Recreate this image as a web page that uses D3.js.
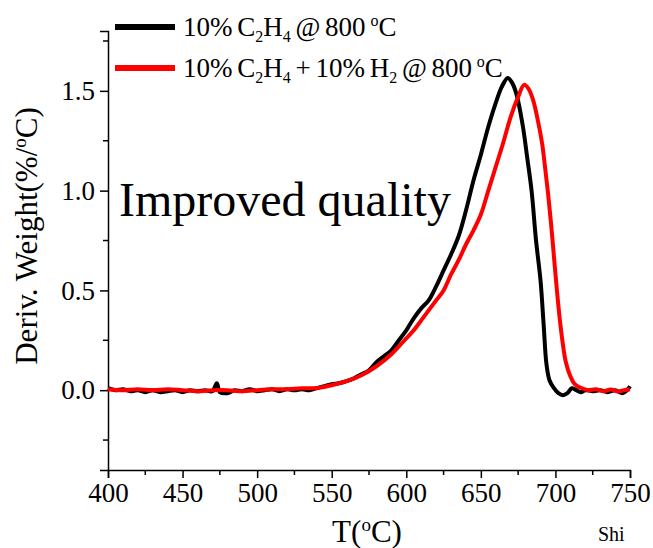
<!DOCTYPE html>
<html>
<head>
<meta charset="utf-8">
<script src="https://cdn.jsdelivr.net/npm/d3@7"></script>
<style>
  body { margin: 0; background: #fff; }
  text { font-family: "Liberation Serif", "Times New Roman", serif; fill: #000; }
</style>
</head>
<body>
<svg id="chart" width="653" height="548"></svg>
<script>
// black: 10% C2H4 @ 800 C
const blackT = [400, 405, 410, 415, 420, 425, 430, 435, 440, 445, 450, 455, 460, 465, 470, 473, 475, 480, 485, 490,
  495, 500, 505, 510, 515, 520, 525, 530, 535, 540, 545, 550, 555, 560, 565, 570, 575, 580, 585, 590,
  595, 600, 605, 610, 615, 620, 625, 630, 635, 640, 645, 650, 655, 660, 664, 668, 671, 674, 678, 681,
  684, 687, 690, 692, 694, 696, 699, 702, 705, 708, 711, 714, 717, 720, 725, 730, 735, 740, 745, 748, 750];
const blackV = [0.01, 0.0, 0.005, -0.005, 0.0, -0.01, 0.0, -0.01, -0.005, 0.0, -0.01, 0.0, -0.005, 0.0, -0.005, 0.035, -0.01, -0.015, 0.0, -0.005,
  0.005, -0.005, 0.0, 0.005, -0.005, 0.005, 0.0, 0.005, 0.0, 0.01, 0.02, 0.03, 0.035, 0.045, 0.06, 0.08, 0.1, 0.14, 0.17, 0.2,
  0.25, 0.3, 0.36, 0.41, 0.45, 0.52, 0.6, 0.68, 0.77, 0.9, 1.05, 1.18, 1.32, 1.44, 1.52, 1.565, 1.54, 1.48, 1.33, 1.17,
  1.0, 0.75, 0.55, 0.34, 0.13, 0.05, 0.01, -0.015, -0.025, -0.015, 0.01, 0.0, -0.01, 0.0, -0.005, 0.0, -0.01, 0.0, -0.015, 0.0, 0.02];

// red: 10% C2H4 + 10% H2 @ 800 C
const redT = [400, 410, 420, 430, 440, 450, 460, 470, 480, 490, 500, 510, 520, 530, 540, 550, 560, 570, 580, 590,
  600, 605, 610, 615, 620, 625, 630, 635, 640, 645, 650, 655, 660, 665, 670, 675, 679, 682, 685, 688,
  691, 693, 695, 697, 699, 701, 703, 705, 707, 710, 713, 717, 722, 727, 732, 737, 742, 746, 750];
const redV = [0.005, 0.0, 0.005, 0.0, 0.005, 0.0, -0.005, 0.0, 0.0, -0.005, 0.0, 0.005, 0.005, 0.01, 0.01, 0.025, 0.045, 0.075, 0.12, 0.18,
  0.26, 0.3, 0.35, 0.4, 0.45, 0.5, 0.58, 0.65, 0.73, 0.8, 0.88, 1.0, 1.12, 1.24, 1.37, 1.47, 1.53, 1.51, 1.455, 1.36,
  1.24, 1.12, 0.99, 0.84, 0.67, 0.5, 0.35, 0.23, 0.14, 0.07, 0.03, 0.012, 0.0, 0.005, -0.005, 0.003, -0.006, 0.0, 0.005];

const xTicks = [400, 450, 500, 550, 600, 650, 700, 750];
const yTicks = [0.0, 0.5, 1.0, 1.5];
const yMinor = [-0.25, 0.25, 0.75, 1.25, 1.75];
const xMinor = [425, 475, 525, 575, 625, 675, 725];

const svg = d3.select("#chart");

const x = d3.scaleLinear().domain([400, 750]).range([108, 630]);
const y = d3.scaleLinear().domain([-0.4, 1.8]).range([470, 31]);

// Axes
const xAxis = svg.append("g")
  .attr("transform", `translate(0,${y(-0.4)})`)
  .call(d3.axisBottom(x).tickValues(xTicks).tickSize(8).tickPadding(5).tickFormat(d3.format("d")));
xAxis.append("g").selectAll("line")
  .data(xMinor)
  .join("line")
  .attr("x1", d => x(d)).attr("x2", d => x(d))
  .attr("y1", 0).attr("y2", 5)
  .attr("stroke", "#000").attr("stroke-width", 1.5);

const yAxis = svg.append("g")
  .attr("transform", `translate(${x(400)},0)`)
  .call(d3.axisLeft(y).tickValues(yTicks).tickSize(8).tickPadding(5).tickFormat(d3.format(".1f")));
yAxis.append("g").selectAll("line")
  .data(yMinor)
  .join("line")
  .attr("y1", d => y(d)).attr("y2", d => y(d))
  .attr("x1", 0).attr("x2", -5)
  .attr("stroke", "#000").attr("stroke-width", 1.5);

svg.selectAll(".domain").attr("stroke", "#000").attr("stroke-width", 1.5);
svg.selectAll(".tick line").attr("stroke", "#000").attr("stroke-width", 1.5);
svg.selectAll(".tick text")
  .style("font-family", "'Liberation Serif', serif")
  .style("font-size", "27px");

// Lines
const line = d3.line()
  .x(d => x(d[0]))
  .y(d => y(d[1]))
  .curve(d3.curveCatmullRom);

svg.append("path")
  .datum(d3.zip(blackT, blackV))
  .attr("fill", "none")
  .attr("stroke", "#000")
  .attr("stroke-width", 4)
  .attr("stroke-linejoin", "round")
  .attr("d", line);

svg.append("path")
  .datum(d3.zip(redT, redV))
  .attr("fill", "none")
  .attr("stroke", "#ff0000")
  .attr("stroke-width", 4)
  .attr("stroke-linejoin", "round")
  .attr("d", line);

// Legend
const legend = [
  { color: "#000", y: 27, parts: [["10% C", ""], ["2", "sub"], ["H", ""], ["4", "sub"], [" @ 800 ", ""], ["o", "sup"], ["C", ""]] },
  { color: "#ff0000", y: 68, parts: [["10% C", ""], ["2", "sub"], ["H", ""], ["4", "sub"], [" + 10% H", ""], ["2", "sub"], [" @ 800 ", ""], ["o", "sup"], ["C", ""]] }
];
legend.forEach(l => {
  svg.append("line")
    .attr("x1", 115).attr("x2", 175)
    .attr("y1", l.y).attr("y2", l.y)
    .attr("stroke", l.color).attr("stroke-width", 6);
  const t = svg.append("text")
    .attr("x", 183).attr("y", l.y + 9)
    .attr("font-size", 27)
    .attr("word-spacing", -2);
  let shift = 0;
  l.parts.forEach(p => {
    const want = p[1] === "sub" ? 6 : p[1] === "sup" ? -10 : 0;
    const s = t.append("tspan").text(p[0]).attr("dy", want - shift);
    if (p[1]) s.attr("font-size", 16);
    shift = want;
  });
});

// Annotation
svg.append("text")
  .attr("x", 119).attr("y", 216)
  .attr("font-size", 48)
  .text("Improved quality");

// Axis titles
const yTitle = svg.append("text")
  .attr("transform", "translate(37,236) rotate(-90)")
  .attr("text-anchor", "middle")
  .attr("font-size", 31);
yTitle.append("tspan").text("Deriv. Weight(%/");
yTitle.append("tspan").text("o").attr("font-size", 19).attr("dy", -11);
yTitle.append("tspan").text("C)").attr("dy", 11);

const xTitle = svg.append("text")
  .attr("x", 367).attr("y", 542)
  .attr("text-anchor", "middle")
  .attr("font-size", 31);
xTitle.append("tspan").text("T(");
xTitle.append("tspan").text("o").attr("font-size", 19).attr("dy", -11);
xTitle.append("tspan").text("C)").attr("dy", 11);

// caption from the source page, at the bottom edge
svg.append("text")
  .attr("x", 598).attr("y", 541)
  .attr("font-size", 20)
  .text("Shi");
</script>
</body>
</html>
